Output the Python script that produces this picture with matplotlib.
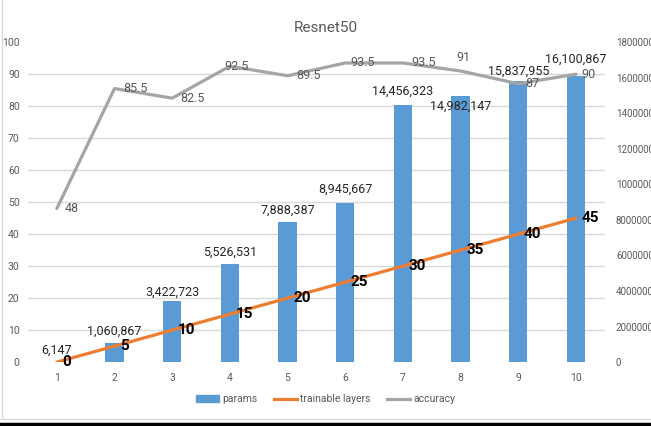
import matplotlib.pyplot as plt
from matplotlib.lines import Line2D
from matplotlib.ticker import FixedLocator, NullFormatter

plt.rcParams['font.family'] = ['Roboto', 'DejaVu Sans']

steps = [1, 2, 3, 4, 5, 6, 7, 8, 9, 10]
params = [6147, 1060867, 3422723, 5526531, 7888387, 8945667,
          14456323, 14982147, 15837955, 16100867]
trainable = [0, 5, 10, 15, 20, 25, 30, 35, 40, 45]
accuracy = [48, 85.5, 82.5, 92.5, 89.5, 93.5, 93.5, 91, 87, 90]
acc_labels = ["48", "85.5", "82.5", "92.5", "89.5", "93.5", "93.5", "91", "87", "90"]

BLUE = "#5B9BD5"
ORANGE = "#ED7D31"
GREY = "#A5A5A5"
TXT = "#595959"

fig = plt.figure(figsize=(6.51, 4.26), dpi=100)
ax = fig.add_axes([0.043, 0.150, 0.886, 0.751])
ax2 = ax.twinx()

# bars: params, scale on the right
ax.bar(steps, params, width=0.32, color=BLUE, zorder=2)
ax.set_ylim(0, 18000000)
ax.set_yticks(range(0, 18000001, 2000000))
ax.set_yticklabels([str(v) for v in range(0, 18000001, 2000000)])
# gridlines follow the left (0-100) scale
ax.yaxis.set_minor_locator(FixedLocator(range(0, 18000001, 1800000)))
ax.yaxis.set_minor_formatter(NullFormatter())
ax.yaxis.grid(True, which="minor", color="#D9D9D9", lw=1, zorder=0)
ax.set_axisbelow(True)

bar_dy = [4, 4, 2, 4, 4, 5, 5, -12, 2, 7]
for x, p, dy in zip(steps, params, bar_dy):
    ax.annotate(f"{p:,}", (x, p), xytext=(0, dy), textcoords="offset points",
                ha="center", va="bottom", fontsize=9, color="#262626")

ax.set_xlim(0.5, 10.5)
ax.set_xticks(steps)
ax.tick_params(axis="x", length=0, pad=8, labelsize=7.5, labelcolor=TXT)

# lines: trainable layers and accuracy, scale on the left
ax2.plot(steps, trainable, color=ORANGE, lw=2.3, solid_capstyle="round")
ax2.plot(steps, accuracy, color=GREY, lw=2.3, solid_capstyle="round")
ax2.set_ylim(0, 100)
ax2.set_yticks(range(0, 101, 10))

# swap sides (twinx puts the first axes on the left)
ax.yaxis.tick_right()
ax2.yaxis.tick_left()
ax.tick_params(axis="y", which="both", length=0, pad=8, labelsize=7, labelcolor=TXT)
ax2.tick_params(axis="y", length=0, pad=6, labelsize=7.5, labelcolor=TXT)

for x, t in zip(steps, trainable):
    ax2.annotate(str(t), (x, t), xytext=(4, 0), textcoords="offset points",
                 ha="left", va="center", fontsize=11, fontweight="bold", color="black")

acc_dx = [6, 6, 6, -4, 6, 4, 6, -3, 5, 4]
acc_dy = [0, 0, 0, 0, 0, 0, 0, 5, 0, 0]
for x, a, s, dx, dy in zip(steps, accuracy, acc_labels, acc_dx, acc_dy):
    ax2.annotate(s, (x, a), xytext=(dx, dy), textcoords="offset points",
                 ha="left", va="bottom" if dy else "center", fontsize=9, color=TXT)

for a in (ax, ax2):
    for sp in a.spines.values():
        sp.set_visible(False)

fig.text(0.5, 0.935, "Resnet50", ha="center", va="center", fontsize=11, color=TXT)

handles = [plt.Rectangle((0, 0), 1, 1, color=BLUE),
           Line2D([], [], color=ORANGE, lw=2.3),
           Line2D([], [], color=GREY, lw=2.3)]
fig.legend(handles, ["params", "trainable layers", "accuracy"], loc="center",
           bbox_to_anchor=(0.5, 0.063), ncol=3, frameon=False, fontsize=7.5,
           labelcolor=TXT, handlelength=2.2, handleheight=0.6, columnspacing=1.6,
           handletextpad=0.3)

# frame bits around the chart
fig.add_artist(Line2D([0.003, 0.003], [0.02, 1], color="#D9D9D9", lw=1))
fig.add_artist(Line2D([0, 1], [0.017, 0.017], color="#D9D9D9", lw=1))
fig.add_artist(Line2D([0, 1], [0.005, 0.005], color="black", lw=2.5))

fig.savefig("out.png", dpi=100)
